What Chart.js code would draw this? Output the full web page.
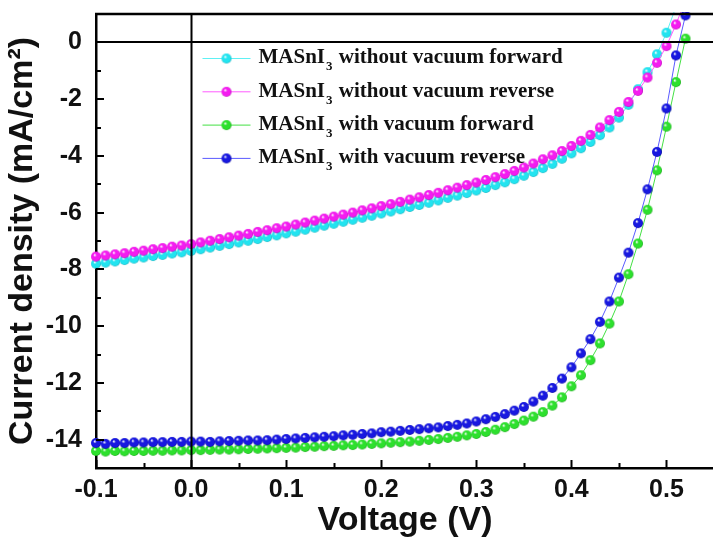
<!DOCTYPE html>
<html>
<head>
<meta charset="utf-8">
<script src="https://cdn.jsdelivr.net/npm/chart.js@4"></script>
<style>
  html, body { margin: 0; padding: 0; background: #fff; overflow: hidden; }
</style>
</head>
<body>
<canvas id="jv" width="720" height="541"></canvas>
<script>
// voltage steps (V)
const voltage = [-0.10, -0.09, -0.08, -0.07, -0.06, -0.05, -0.04, -0.03, -0.02, -0.01,
    0.00, 0.01, 0.02, 0.03, 0.04, 0.05, 0.06, 0.07, 0.08, 0.09,
    0.10, 0.11, 0.12, 0.13, 0.14, 0.15, 0.16, 0.17, 0.18, 0.19,
    0.20, 0.21, 0.22, 0.23, 0.24, 0.25, 0.26, 0.27, 0.28, 0.29,
    0.30, 0.31, 0.32, 0.33, 0.34, 0.35, 0.36, 0.37, 0.38, 0.39,
    0.40, 0.41, 0.42, 0.43, 0.44, 0.45, 0.46, 0.47, 0.48, 0.49,
    0.50, 0.51, 0.52];

// current density (mA/cm2)
const noVacForward = [-7.80, -7.76, -7.72, -7.67, -7.62, -7.58, -7.53, -7.49, -7.44, -7.40,
    -7.35, -7.29, -7.23, -7.17, -7.11, -7.05, -6.99, -6.93, -6.86, -6.80,
    -6.73, -6.67, -6.60, -6.53, -6.46, -6.39, -6.32, -6.25, -6.18, -6.11,
    -6.03, -5.96, -5.88, -5.80, -5.73, -5.65, -5.57, -5.48, -5.40, -5.31,
    -5.22, -5.13, -5.03, -4.93, -4.82, -4.70, -4.57, -4.43, -4.28, -4.10,
    -3.91, -3.73, -3.51, -3.27, -3.00, -2.65, -2.20, -1.65, -1.05, -0.42,
    0.34, 1.25];
const noVacReverse = [-7.55, -7.51, -7.47, -7.43, -7.38, -7.34, -7.29, -7.25, -7.20, -7.16,
    -7.11, -7.05, -6.99, -6.93, -6.87, -6.81, -6.75, -6.68, -6.62, -6.55,
    -6.49, -6.42, -6.35, -6.28, -6.21, -6.14, -6.07, -6.00, -5.92, -5.85,
    -5.77, -5.70, -5.62, -5.54, -5.46, -5.38, -5.30, -5.21, -5.12, -5.03,
    -4.94, -4.85, -4.75, -4.64, -4.53, -4.41, -4.27, -4.12, -3.98, -3.83,
    -3.65, -3.47, -3.26, -3.00, -2.74, -2.45, -2.10, -1.71, -1.24, -0.72,
    -0.13, 0.63, 1.50];
const vacForward = [-14.40, -14.42, -14.40, -14.41, -14.40, -14.40, -14.39, -14.39, -14.38, -14.38,
    -14.37, -14.37, -14.36, -14.35, -14.35, -14.34, -14.33, -14.32, -14.31, -14.30,
    -14.29, -14.28, -14.26, -14.25, -14.23, -14.22, -14.20, -14.19, -14.17, -14.15,
    -14.13, -14.11, -14.09, -14.07, -14.04, -14.01, -13.98, -13.94, -13.90, -13.85,
    -13.80, -13.73, -13.65, -13.56, -13.45, -13.33, -13.19, -13.03, -12.80, -12.51,
    -12.12, -11.73, -11.20, -10.61, -9.91, -9.13, -8.17, -7.09, -5.90, -4.51,
    -2.97, -1.40, 0.13];
const vacReverse = [-14.12, -14.15, -14.12, -14.12, -14.10, -14.10, -14.09, -14.09, -14.08, -14.08,
    -14.07, -14.07, -14.08, -14.06, -14.05, -14.04, -14.03, -14.03, -14.02, -14.00,
    -13.98, -13.96, -13.94, -13.92, -13.90, -13.88, -13.85, -13.83, -13.80, -13.78,
    -13.74, -13.72, -13.69, -13.66, -13.63, -13.60, -13.57, -13.52, -13.48, -13.43,
    -13.36, -13.28, -13.20, -13.10, -12.98, -12.85, -12.66, -12.45, -12.18, -11.85,
    -11.45, -10.96, -10.46, -9.85, -9.13, -8.29, -7.41, -6.37, -5.18, -3.86,
    -2.33, -0.46, 0.95];

const seriesNames = ['without vacuum forward', 'without vacuum reverse', 'with vacuum forward', 'with vacuum reverse'];
const xTicks = [-0.1, 0.0, 0.1, 0.2, 0.3, 0.4, 0.5];
const yTicks = [0, -2, -4, -6, -8, -10, -12, -14];

const FONT = "'Liberation Sans', Arial, sans-serif";

// little shaded balls used as markers
function makeBall(color, dark) {
    const c = document.createElement('canvas');
    c.width = 12; c.height = 12;
    const g = c.getContext('2d');
    const grad = g.createRadialGradient(4.6, 4.2, 0.2, 6, 6, 5.6);
    grad.addColorStop(0, '#ffffff');
    grad.addColorStop(0.3, color);
    grad.addColorStop(0.75, color);
    grad.addColorStop(1, dark);
    g.fillStyle = grad;
    g.beginPath();
    g.arc(6, 6, 5, 0, Math.PI * 2);
    g.fill();
    return c;
}

const styles = [
    { line: '#5ff0f4', ball: makeBall('#22e4f0', '#0a9aa8') },
    { line: '#ff5cff', ball: makeBall('#f41cf0', '#a0009c') },
    { line: '#44e044', ball: makeBall('#2de02d', '#0c8c0c') },
    { line: '#5a5aff', ball: makeBall('#1818e0', '#000080') }
];

const allSeries = [noVacForward, noVacReverse, vacForward, vacReverse];

const datasets = allSeries.map((vals, k) => ({
    label: 'MASnI3 ' + seriesNames[k],
    data: vals.map((j, i) => ({ x: voltage[i], y: j })),
    borderColor: styles[k].line,
    borderWidth: 1,
    pointStyle: styles[k].ball,
    pointRadius: 5,
    tension: 0,
    clip: { left: 6, top: 2, right: 6, bottom: 6 },
    order: 4 - k
}));

// frame, zero lines, inward ticks and the legend
const decor = {
    id: 'decor',
    afterDatasetsDraw(chart) {
        const ctx = chart.ctx;
        const area = chart.chartArea;
        const xs = chart.scales.x, ys = chart.scales.y;
        ctx.save();
        ctx.strokeStyle = '#000';

        // top frame
        ctx.lineWidth = 2.5;
        ctx.beginPath();
        ctx.moveTo(area.left - 1, area.top);
        ctx.lineTo(area.right, area.top);
        ctx.stroke();

        // zero lines
        ctx.lineWidth = 2;
        const x0 = Math.round(xs.getPixelForValue(0)) + 0.5;
        const y0 = Math.round(ys.getPixelForValue(0));
        ctx.beginPath();
        ctx.moveTo(x0, area.top);
        ctx.lineTo(x0, area.bottom);
        ctx.moveTo(area.left, y0);
        ctx.lineTo(area.right, y0);
        ctx.stroke();

        // inward ticks
        ctx.lineWidth = 2;
        ctx.beginPath();
        for (let v = -0.1; v < 0.551; v += 0.05) {
            const major = Math.abs(Math.round(v * 10) - v * 10) < 1e-6;
            const px = Math.round(xs.getPixelForValue(v)) + 0.5;
            ctx.moveTo(px, area.bottom);
            ctx.lineTo(px, area.bottom - (major ? 8 : 5));
        }
        for (let v = -15; v <= 1; v += 1) {
            const py = Math.round(ys.getPixelForValue(v));
            ctx.moveTo(area.left, py);
            ctx.lineTo(area.left + (v % 2 === 0 ? 8 : 5), py);
        }
        ctx.stroke();

        // legend
        const lx = x0 + 11;
        let ly = 58;
        chart.data.datasets.forEach((ds, k) => {
            ctx.strokeStyle = styles[k].line;
            ctx.lineWidth = 1;
            ctx.beginPath();
            ctx.moveTo(lx, ly + 0.5);
            ctx.lineTo(lx + 48, ly + 0.5);
            ctx.stroke();
            const b = styles[k].ball;
            ctx.drawImage(b, lx + 24 - b.width / 2, ly - b.height / 2 + 0.5);

            ctx.fillStyle = '#111';
            ctx.textBaseline = 'middle';
            ctx.textAlign = 'left';
            let tx = lx + 56;
            ctx.font = "bold 21px 'Liberation Serif', 'Times New Roman', serif";
            ctx.fillText('MASnI', tx, ly);
            tx += ctx.measureText('MASnI').width + 1;
            ctx.font = "bold 13px 'Liberation Serif', 'Times New Roman', serif";
            ctx.fillText('3', tx, ly + 9);
            tx += ctx.measureText('3').width + 1;
            ctx.font = "bold 21px 'Liberation Serif', 'Times New Roman', serif";
            ctx.fillText(' ' + seriesNames[k], tx, ly);
            ly += 33.3;
        });
        ctx.restore();
    }
};

new Chart(document.getElementById('jv'), {
    type: 'line',
    data: { datasets: datasets },
    options: {
        responsive: false,
        animation: false,
        layout: { padding: { top: 14, right: 3, left: 0, bottom: 0 } },
        plugins: {
            legend: { display: false },
            tooltip: { enabled: false }
        },
        scales: {
            x: {
                type: 'linear',
                min: -0.1,
                max: 0.55,
                afterBuildTicks: s => { s.ticks = xTicks.map(v => ({ value: v })); },
                afterFit: s => { s.height = 73; s.paddingLeft = 0; s.paddingRight = 0; },
                grid: { display: false, drawTicks: false },
                border: { display: true, color: '#000', width: 2.5 },
                ticks: {
                    padding: 7,
                    color: '#111',
                    font: { family: FONT, size: 25, weight: 'bold' },
                    callback: v => v.toFixed(1)
                },
                title: {
                    display: true,
                    text: 'Voltage (V)',
                    color: '#111',
                    padding: { top: 0, bottom: 0 },
                    font: { family: FONT, size: 34, weight: 'bold' }
                }
            },
            y: {
                type: 'linear',
                min: -15,
                max: 1,
                afterBuildTicks: s => { s.ticks = yTicks.map(v => ({ value: v })); },
                afterFit: s => { s.width = 96; s.paddingTop = 0; s.paddingBottom = 0; },
                grid: { display: false, drawTicks: false },
                border: { display: true, color: '#000', width: 2.5 },
                ticks: {
                    padding: 14,
                    color: '#111',
                    font: { family: FONT, size: 25, weight: 'bold' }
                },
                title: {
                    display: true,
                    text: 'Current density (mA/cm²)',
                    color: '#111',
                    padding: { top: 2, bottom: 0 },
                    font: { family: FONT, size: 34, weight: 'bold' }
                }
            }
        }
    },
    plugins: [decor]
});
</script>
</body>
</html>
